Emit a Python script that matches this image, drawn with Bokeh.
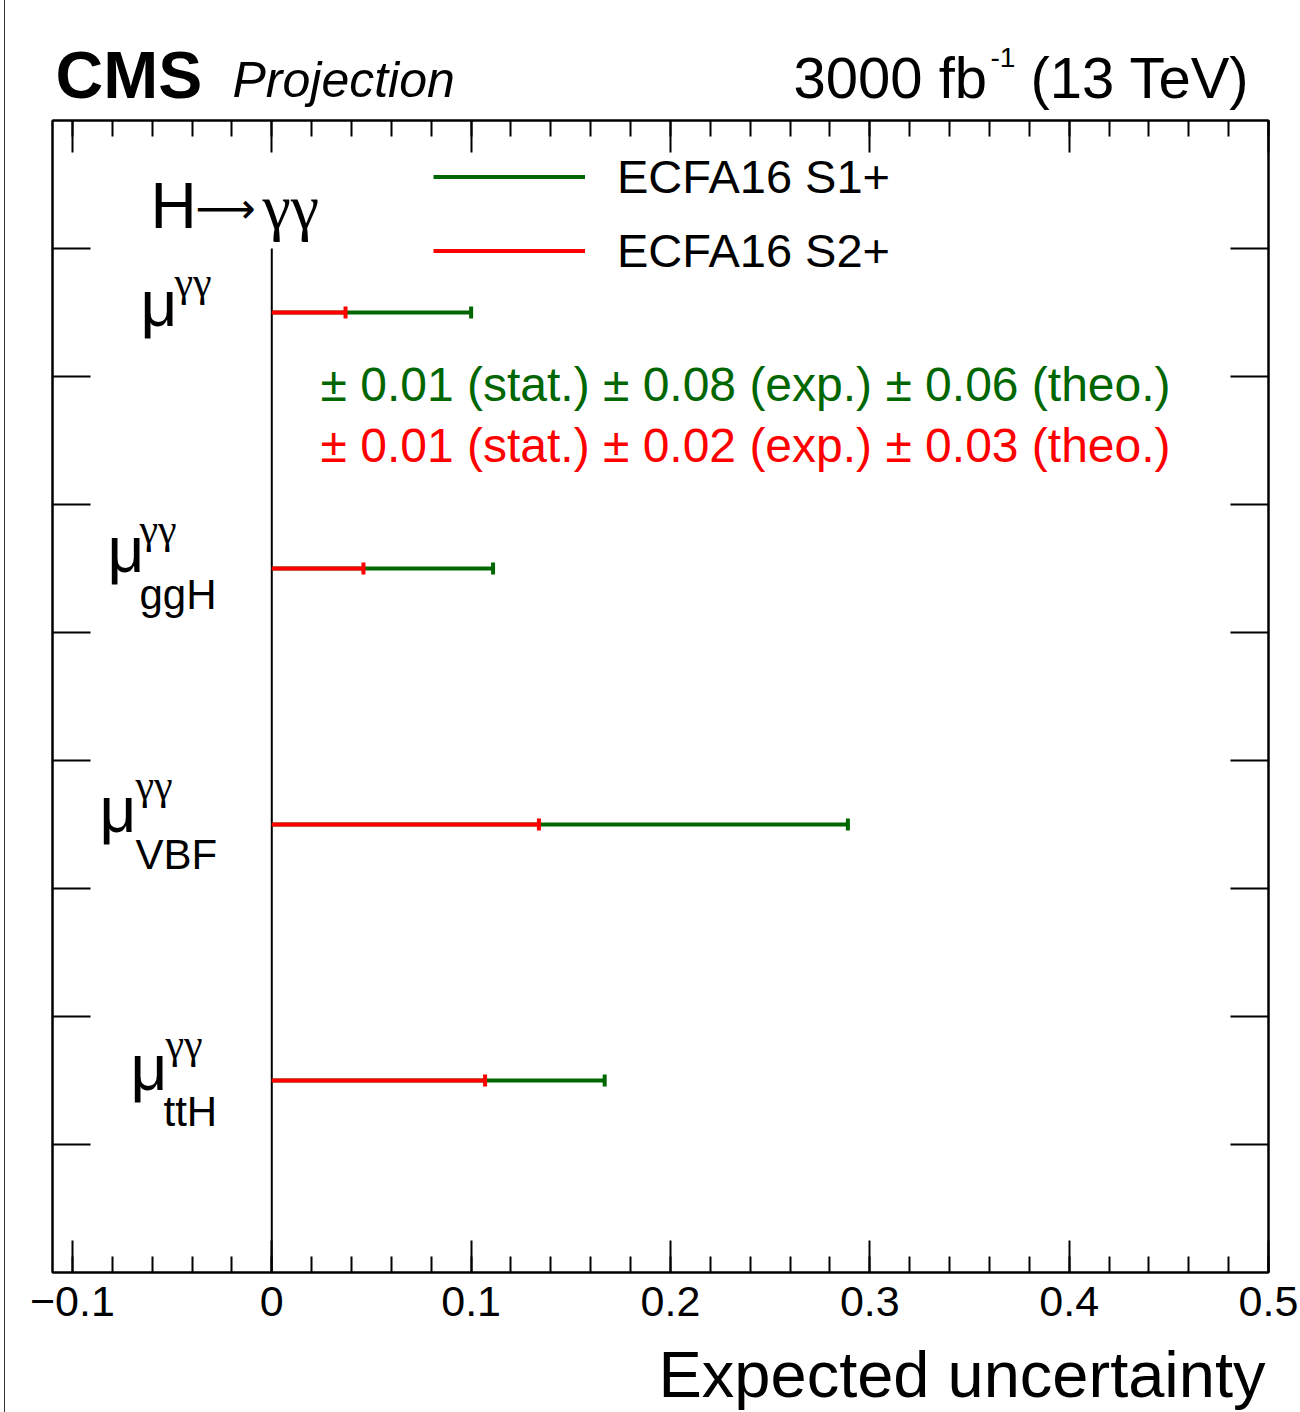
from bokeh.plotting import figure
from bokeh.models import (LinearAxis, FixedTicker, Legend, LegendItem, Range1d,
                          ColumnDataSource, Div, Spacer)
from bokeh.layouts import column, row
from bokeh.core.properties import value
from bokeh.embed import file_html
from bokeh.resources import INLINE

# ---------------- data ----------------
sub_labels = ["", "ggH", "VBF", "ttH"]          # μ^γγ_{...}
s1_unc = [0.100, 0.111, 0.289, 0.167]          # ECFA16 S1+
s2_unc = [0.037, 0.046, 0.134, 0.107]          # ECFA16 S2+
scenario_names = ["ECFA16 S1+", "ECFA16 S2+"]
breakdown_s1 = "± 0.01 (stat.) ± 0.08 (exp.) ± 0.06 (theo.)"
breakdown_s2 = "± 0.01 (stat.) ± 0.02 (exp.) ± 0.03 (theo.)"
x_ticks = [-0.1, 0.0, 0.1, 0.2, 0.3, 0.4, 0.5]
x_tick_labels = ["\u22120.1", "0", "0.1", "0.2", "0.3", "0.4", "0.5"]
x_minor = [round(-0.1 + 0.02 * i, 2) for i in range(31)]
y_ticks = [1, 2, 3, 4, 5, 6, 7, 8]

GREEN = "#006600"
RED = "#ff0000"
SANS = "Liberation Sans"
SERIF = "Liberation Serif"

n = len(sub_labels)
row_y = [7.5 - 2 * i for i in range(n)]

# ---------------- layout (page pixels) ----------------
PX0 = 5                      # left edge of the drawing column
W = 1300 - PX0
FRAME_L, FRAME_T, FW, FH = 52, 120, 1216, 1152
HEAD_H = 116
MAIN_TOP_BORDER = FRAME_T - HEAD_H
MAIN_BOTTOM_BORDER = 64
FOOT_H = 1412 - HEAD_H - MAIN_TOP_BORDER - FH - MAIN_BOTTOM_BORDER
XR = (-0.11, 0.5)
YR = (0.0, 9.0)
K_MID = 0.345                # alphabetic baseline -> em-box middle

def X(px):
    return XR[0] + (px - FRAME_L) / FW * (XR[1] - XR[0])

def Y(py):
    return YR[1] - (py - FRAME_T) / FH * (YR[1] - YR[0])

def ident(v):
    return v

def row_py(y):
    return FRAME_T + (YR[1] - y) / (YR[1] - YR[0]) * FH

def txt(fig, t, px, py, size, font=SANS, style="normal", color="black", align="left",
        fx=ident, fy=ident, mid=False):
    ymid = py if mid else py - K_MID * size
    fig.text(x=[fx(px)], y=[fy(ymid)], text=[t], text_font=value(font),
             text_font_size=value(f"{size}px"), text_font_style=style, text_color=color,
             text_align=align, text_baseline="middle")

def blank_fig(h, y0):
    f = figure(width=W, height=h, x_range=Range1d(FRAME_L, FRAME_L + FW),
               y_range=Range1d(y0 + h, y0),
               output_backend="svg", toolbar_location=None, min_border=0,
               x_axis_location=None, y_axis_location=None)
    f.xgrid.visible = False
    f.ygrid.visible = False
    f.outline_line_color = None
    f.background_fill_color = "white"
    f.border_fill_color = "white"
    return f

# ---------------- header ----------------
head = blank_fig(HEAD_H, 0)
txt(head, "CMS", 55, 97, 66, style="bold")
txt(head, "Projection", 232, 97, 50, style="italic")
txt(head, "3000 fb", 793, 97, 58)
txt(head, "-1", 990, 67, 28)
txt(head, "(13 TeV)", 1030, 97, 58)

# ---------------- main plot ----------------
p = figure(frame_width=FW, frame_height=FH, x_range=Range1d(*XR), y_range=Range1d(*YR),
           output_backend="svg", toolbar_location=None,
           min_border_left=FRAME_L - PX0, min_border_right=1300 - FRAME_L - FW,
           min_border_top=MAIN_TOP_BORDER, min_border_bottom=MAIN_BOTTOM_BORDER,
           x_axis_location=None, y_axis_location=None)
p.xgrid.visible = False
p.ygrid.visible = False
p.outline_line_color = "black"
p.outline_line_width = 2
p.background_fill_color = "white"
p.border_fill_color = "white"

def make_xaxis(labels):
    ax = LinearAxis(ticker=FixedTicker(ticks=x_ticks, minor_ticks=x_minor))
    ax.major_tick_in = 32
    ax.major_tick_out = 0
    ax.minor_tick_in = 16
    ax.minor_tick_out = 0
    ax.major_tick_line_width = 2
    ax.minor_tick_line_width = 2
    ax.axis_line_width = 2
    if labels:
        ax.major_label_overrides = {t: l for t, l in zip(x_ticks, x_tick_labels)}
        ax.major_label_text_font = SANS
        ax.major_label_text_font_size = "43px"
        ax.major_label_text_color = "black"
        ax.major_label_standoff = 14
    else:
        ax.major_label_overrides = {t: "" for t in x_ticks}
        ax.major_label_standoff = 0
    return ax

def make_yaxis():
    ax = LinearAxis(ticker=FixedTicker(ticks=y_ticks, minor_ticks=[]))
    ax.major_tick_in = 38
    ax.major_tick_out = 0
    ax.minor_tick_in = 0
    ax.minor_tick_out = 0
    ax.major_tick_line_width = 2
    ax.axis_line_width = 2
    ax.major_label_overrides = {t: "" for t in y_ticks}
    ax.major_label_standoff = 0
    return ax

p.add_layout(make_xaxis(True), "below")
p.add_layout(make_xaxis(False), "above")
p.add_layout(make_yaxis(), "left")
p.add_layout(make_yaxis(), "right")

# zero line
p.segment(x0=[0], y0=[0], x1=[0], y1=[max(y_ticks)], line_color="black", line_width=2)

src = ColumnDataSource(dict(y=row_y, x0=[0.0] * n, s1=s1_unc, s2=s2_unc))
g1 = p.segment(x0="x0", y0="y", x1="s1", y1="y", source=src, line_color=GREEN, line_width=4)
p.rect(x="s1", y="y", width=4, height=12, width_units="screen", height_units="screen",
       source=src, fill_color=GREEN, line_color=None)
g2 = p.segment(x0="x0", y0="y", x1="s2", y1="y", source=src, line_color=RED, line_width=4)
p.rect(x="s2", y="y", width=4, height=12, width_units="screen", height_units="screen",
       source=src, fill_color=RED, line_color=None)

legend = Legend(items=[LegendItem(label=scenario_names[0], renderers=[g1]),
                       LegendItem(label=scenario_names[1], renderers=[g2])],
                location=(381, 994), orientation="vertical",
                border_line_color=None, background_fill_alpha=0,
                padding=0, margin=0, spacing=19, glyph_width=152, glyph_height=47,
                label_height=47, label_standoff=32,
                label_text_font=SANS, label_text_font_size="47px", label_text_color="black")
p.add_layout(legend)

# channel title H→γγ
txt(p, "H", 150, 228, 64, fx=X, fy=Y)
txt(p, "\u27f6", 195, 208, 42, font="DejaVu Sans", fx=X, fy=Y, mid=True)
txt(p, "\u03b3\u03b3", 262, 228, 64, font=SERIF, fx=X, fy=Y)

# uncertainty breakdown
txt(p, breakdown_s1, 320, 401, 48, color=GREEN, fx=X, fy=Y)
txt(p, breakdown_s2, 320, 462, 48, color=RED, fx=X, fy=Y)

# parameter labels: μ^{γγ}_{sub}
mu_x = [140, 107, 99, 130]
mu_dy = [14, 4, 8, 10]
sup_x = [174, 139, 135, 165]
sup_dy = [-16, -25, -25, -22]
sub_x = [0, 139, 135, 163]
sub_dy = [0, 40, 44, 45]
for i in range(n):
    cy = row_py(row_y[i])
    txt(p, "\u03bc", mu_x[i], cy + mu_dy[i], 64, fx=X, fy=Y)
    txt(p, "\u03b3\u03b3", sup_x[i], cy + sup_dy[i], 42, font=SERIF, fx=X, fy=Y)
    if sub_labels[i]:
        txt(p, sub_labels[i], sub_x[i], cy + sub_dy[i], 42, fx=X, fy=Y)

# ---------------- footer (axis title) ----------------
foot = blank_fig(FOOT_H, 1412 - FOOT_H)
txt(foot, "Expected uncertainty", 1265, 1396, 65, align="right")

edge = Div(width=1, height=1412, margin=0, styles={"background-color": "#333333"})
layout = row(Spacer(width=PX0 - 1, height=1412, margin=0), edge,
             column(head, p, foot, spacing=0), spacing=0)

open("out.html", "w").write(file_html(layout, INLINE))
